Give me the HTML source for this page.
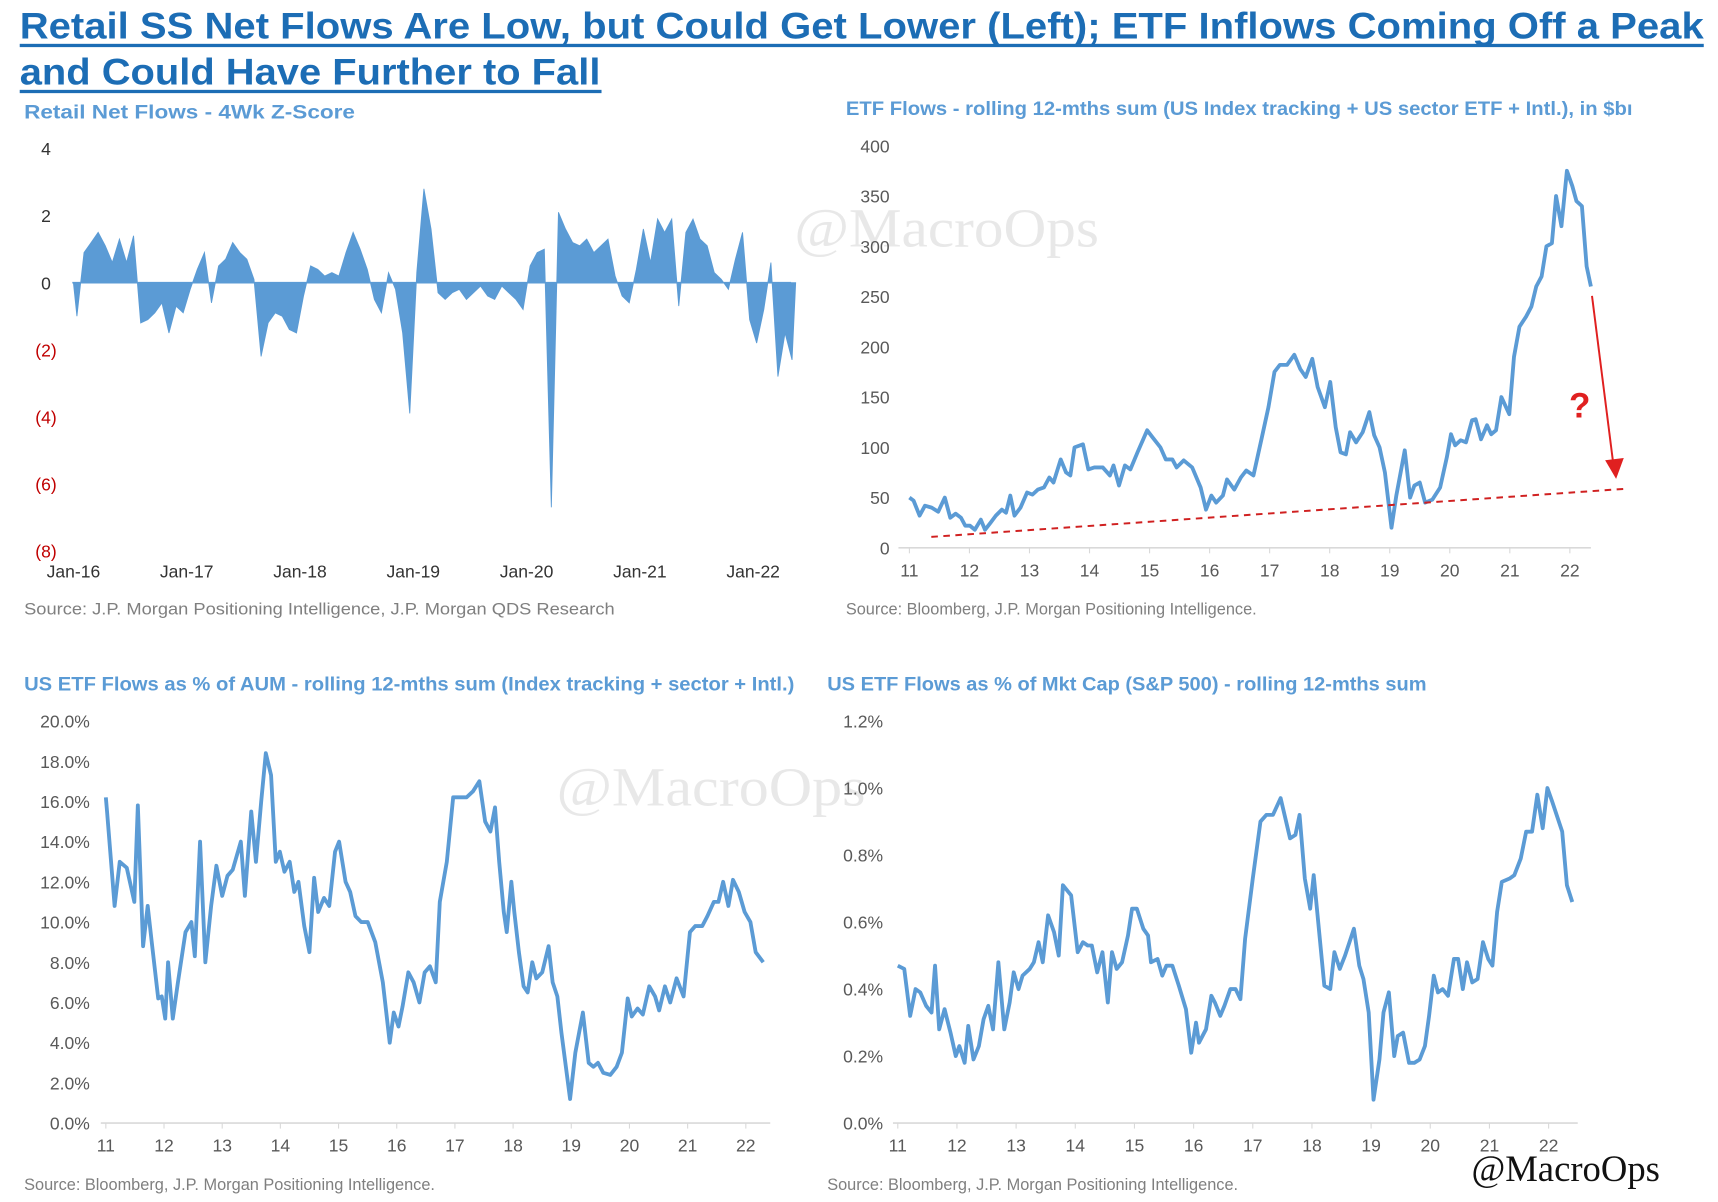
<!DOCTYPE html>
<html><head><meta charset="utf-8">
<style>
html,body{margin:0;padding:0;background:#fff;}
svg{display:block;}
text{font-family:"Liberation Sans",Arial,sans-serif;}
</style></head>
<body>
<svg id="root" width="1718" height="1202" viewBox="0 0 1568 1097" preserveAspectRatio="none" xmlns="http://www.w3.org/2000/svg">
<rect width="1568" height="1097" fill="#fff"/>
<g fill="#1c6db5" font-weight="bold" font-size="34">
<text x="18" y="35" textLength="1537" lengthAdjust="spacingAndGlyphs">Retail SS Net Flows Are Low, but Could Get Lower (Left); ETF Inflows Coming Off a Peak</text>
<rect x="18" y="40" width="1537" height="3"/>
<text x="18" y="77" textLength="530" lengthAdjust="spacingAndGlyphs">and Could Have Further to Fall</text>
<rect x="18" y="82" width="531" height="3"/>
</g>
<g font-weight="bold" font-size="18" fill="#5b9bd5">
<text x="22" y="108" textLength="302" lengthAdjust="spacingAndGlyphs">Retail Net Flows - 4Wk Z-Score</text>
<text x="772" y="105" textLength="718" lengthAdjust="spacingAndGlyphs">ETF Flows - rolling 12-mths sum (US Index tracking + US sector ETF + Intl.), in $bı</text>
<text x="22" y="630" textLength="703" lengthAdjust="spacingAndGlyphs">US ETF Flows as % of AUM - rolling 12-mths sum (Index tracking + sector + Intl.)</text>
<text x="755" y="630" textLength="547" lengthAdjust="spacingAndGlyphs">US ETF Flows as % of Mkt Cap (S&amp;P 500) - rolling 12-mths sum</text>
</g>
<g font-size="15" fill="#7f7f7f">
<text x="22" y="561" textLength="539" lengthAdjust="spacingAndGlyphs">Source: J.P. Morgan Positioning Intelligence, J.P. Morgan QDS Research</text>
<text x="772" y="561" textLength="375" lengthAdjust="spacingAndGlyphs">Source: Bloomberg, J.P. Morgan Positioning Intelligence.</text>
<text x="22" y="1086" textLength="375" lengthAdjust="spacingAndGlyphs">Source: Bloomberg, J.P. Morgan Positioning Intelligence.</text>
<text x="755" y="1086" textLength="375" lengthAdjust="spacingAndGlyphs">Source: Bloomberg, J.P. Morgan Positioning Intelligence.</text>
</g>
<g fill="#e8e8e8" font-size="50">
<text x="725" y="225" textLength="278" lengthAdjust="spacingAndGlyphs" style="font-family:'Liberation Serif',serif">@MacroOps</text>
<text x="508" y="735" textLength="282" lengthAdjust="spacingAndGlyphs" style="font-family:'Liberation Serif',serif">@MacroOps</text>
</g>
<text x="1343" y="1078" font-size="34" fill="#111" textLength="172" lengthAdjust="spacingAndGlyphs" style="font-family:'Liberation Serif',serif">@MacroOps</text>
<g id="c1"></g><g id="c2"></g><g id="c3"></g><g id="c4"></g>
</svg>
<script>
// ---- Chart 1: retail z-score (16 points per year from Jan-16) ----
const zYearLabels = ["Jan-16","Jan-17","Jan-18","Jan-19","Jan-20","Jan-21","Jan-22"];
const zTickValues = [4,2,0,-2,-4,-6,-8];
const zTickLabels = ["4","2","0","(2)","(4)","(6)","(8)"];
const zScores = [
-1.0,0.9,1.2,1.5,1.1,0.6,1.3,0.6,1.4,-1.2,-1.1,-0.9,-0.6,-1.5,-0.7,-0.9,
-0.2,0.4,0.9,-0.6,0.5,0.7,1.2,0.9,0.7,0.1,-2.2,-1.2,-0.9,-1.0,-1.4,-1.5,
-0.4,0.5,0.4,0.2,0.3,0.2,0.9,1.5,1.0,0.4,-0.5,-0.9,0.3,-0.2,-1.5,-3.9,
0.3,2.8,1.6,-0.3,-0.5,-0.3,-0.2,-0.5,-0.3,-0.1,-0.4,-0.5,-0.1,-0.3,-0.5,-0.8,
0.5,0.9,1.0,-6.7,2.1,1.6,1.2,1.1,1.3,0.9,1.1,1.3,0.2,-0.4,-0.6,0.4,
1.6,0.6,1.9,1.5,1.9,-0.7,1.5,1.9,1.3,1.1,0.3,0.1,-0.2,0.7,1.5,-1.1,
-1.8,-0.8,0.6,-2.8,-1.5,-2.3];
// ---- Chart 2: ETF flows $bn ----
const etfTicks = [0,50,100,150,200,250,300,350,400];
const yearLabels = ["11","12","13","14","15","16","17","18","19","20","21","22"];
const etfYears = [0,.07,.17,.26,.37,.48,.59,.68,.77,.86,.93,1.01,1.09,1.19,1.26,1.35,1.44,1.54,1.61,1.68,1.75,1.85,1.96,2.05,2.14,2.24,2.33,2.40,2.52,2.61,2.68,2.75,2.89,2.98,3.08,3.22,3.34,3.40,3.49,3.59,3.68,3.80,3.96,4.05,4.18,4.27,4.38,4.45,4.57,4.71,4.85,4.94,5.03,5.11,5.22,5.29,5.41,5.52,5.61,5.73,5.87,5.98,6.08,6.17,6.29,6.41,6.51,6.60,6.71,6.80,6.92,7.01,7.10,7.18,7.27,7.34,7.44,7.55,7.66,7.74,7.83,7.92,8.03,8.11,8.25,8.34,8.41,8.50,8.59,8.71,8.84,8.95,9.02,9.09,9.18,9.27,9.37,9.43,9.52,9.62,9.69,9.77,9.86,9.99,10.07,10.16,10.27,10.36,10.44,10.53,10.61,10.70,10.77,10.86,10.95,11.04,11.11,11.20,11.28,11.35];
const etfValues = [50,47,32,42,40,36,50,30,34,30,22,22,18,28,18,25,32,38,35,52,32,40,55,53,58,60,70,65,88,75,72,100,103,78,80,80,72,82,62,82,78,95,117,110,100,88,88,80,87,80,60,38,52,45,52,68,58,70,77,72,110,140,175,182,182,192,178,170,188,160,140,165,120,95,93,115,105,115,135,112,100,75,20,52,97,50,62,65,45,48,60,90,113,102,107,105,127,128,108,122,113,117,150,133,190,220,230,240,260,270,300,303,350,320,375,360,345,340,280,260];
// ---- Chart 3: % of AUM ----
const aumTicks = [0,2,4,6,8,10,12,14,16,18,20];
const aumYears = [0,.02,.15,.24,.36,.49,.55,.64,.72,.79,.90,.96,1.02,1.07,1.15,1.24,1.37,1.47,1.53,1.62,1.71,1.81,1.90,2.00,2.09,2.18,2.32,2.39,2.50,2.58,2.67,2.75,2.84,2.92,2.99,3.07,3.16,3.24,3.31,3.41,3.50,3.58,3.65,3.75,3.84,3.94,4.01,4.12,4.20,4.29,4.39,4.50,4.63,4.76,4.88,4.95,5.03,5.10,5.20,5.29,5.39,5.48,5.57,5.67,5.74,5.86,5.97,6.08,6.20,6.31,6.42,6.52,6.61,6.69,6.76,6.84,6.89,6.97,7.02,7.10,7.18,7.25,7.33,7.40,7.50,7.61,7.68,7.76,7.83,7.98,8.07,8.20,8.30,8.38,8.46,8.55,8.67,8.78,8.87,8.97,9.04,9.14,9.23,9.34,9.44,9.51,9.61,9.70,9.81,9.93,10.04,10.13,10.25,10.34,10.45,10.53,10.61,10.70,10.78,10.88,10.98,11.08,11.17,11.30];
const aumValues = [16.2,15.5,10.8,13.0,12.7,11.0,15.8,8.8,10.8,9.0,6.2,6.3,5.2,8.0,5.2,7.0,9.5,10.0,8.3,14.0,8.0,10.8,12.8,11.3,12.3,12.6,14.0,11.3,15.5,13.0,16.0,18.4,17.3,13.0,13.5,12.5,13.0,11.5,12.0,9.8,8.5,12.2,10.5,11.2,10.8,13.5,14.0,12.0,11.5,10.3,10.0,10.0,9.0,7.0,4.0,5.5,4.8,5.8,7.5,7.0,6.0,7.5,7.8,7.0,11.0,13.0,16.2,16.2,16.2,16.5,17.0,15.0,14.5,15.7,13.0,10.5,9.5,12.0,10.5,8.5,6.8,6.5,8.0,7.2,7.5,8.8,7.0,6.3,4.5,1.2,3.5,5.5,3.0,2.8,3.0,2.5,2.4,2.8,3.5,6.2,5.3,5.7,5.4,6.8,6.3,5.6,6.8,6.0,7.2,6.3,9.5,9.8,9.8,10.3,11.0,11.0,12.0,10.8,12.1,11.5,10.5,10.0,8.5,8.0];
// ---- Chart 4: % of Mkt Cap ----
const mcTicks = [0,0.2,0.4,0.6,0.8,1.0,1.2];
const mcYears = [0,.11,.21,.30,.38,.48,.57,.63,.70,.79,.89,.98,1.04,1.13,1.19,1.28,1.37,1.45,1.53,1.61,1.70,1.80,1.89,1.96,2.04,2.11,2.23,2.30,2.38,2.45,2.54,2.64,2.72,2.79,2.93,3.04,3.13,3.21,3.28,3.37,3.46,3.55,3.62,3.70,3.79,3.89,3.96,4.04,4.15,4.23,4.28,4.39,4.47,4.54,4.64,4.75,4.87,4.96,5.04,5.09,5.21,5.30,5.36,5.45,5.52,5.62,5.71,5.79,5.87,6.00,6.13,6.23,6.34,6.47,6.63,6.72,6.79,6.88,6.97,7.03,7.21,7.31,7.38,7.47,7.56,7.71,7.80,7.87,7.96,8.04,8.14,8.21,8.30,8.39,8.45,8.54,8.64,8.73,8.82,8.91,8.98,9.06,9.13,9.21,9.30,9.40,9.47,9.55,9.62,9.71,9.80,9.89,9.98,10.05,10.13,10.21,10.34,10.42,10.53,10.62,10.72,10.81,10.90,10.98,11.06,11.23,11.31,11.40];
const mcValues = [0.47,0.46,0.32,0.40,0.39,0.35,0.33,0.47,0.28,0.34,0.27,0.20,0.23,0.18,0.29,0.19,0.23,0.31,0.35,0.28,0.48,0.28,0.36,0.45,0.40,0.44,0.46,0.48,0.54,0.48,0.62,0.57,0.50,0.71,0.68,0.51,0.54,0.53,0.53,0.45,0.51,0.36,0.51,0.46,0.48,0.56,0.64,0.64,0.58,0.56,0.48,0.49,0.44,0.47,0.47,0.41,0.34,0.21,0.30,0.24,0.28,0.38,0.36,0.32,0.35,0.40,0.40,0.37,0.55,0.73,0.90,0.92,0.92,0.97,0.85,0.86,0.92,0.73,0.64,0.74,0.41,0.40,0.51,0.46,0.50,0.58,0.47,0.43,0.33,0.07,0.19,0.33,0.39,0.20,0.26,0.27,0.18,0.18,0.19,0.23,0.32,0.44,0.39,0.40,0.38,0.49,0.49,0.40,0.48,0.42,0.43,0.54,0.49,0.47,0.63,0.72,0.73,0.74,0.79,0.87,0.87,0.98,0.88,1.00,0.96,0.87,0.71,0.66];

const NS="http://www.w3.org/2000/svg";
function mk(parent,tag,attrs,txt){const e=document.createElementNS(NS,tag);for(const k in attrs)e.setAttribute(k,attrs[k]);if(txt!==undefined)e.textContent=txt;parent.appendChild(e);return e;}
const BLUE="#5b9bd5";

// Chart 1
(function(){
 const g=document.getElementById('c1');
 const x=t=>67+t*103.4, y=v=>258-v*30.6;
 zTickValues.forEach((v,i)=>{const t=mk(g,'text',{x:42,y:y(v)+6,'text-anchor':'middle','font-size':16,fill:v<0?'#c00000':'#333'},zTickLabels[i]);
 
 });
 zYearLabels.forEach((l,i)=>{const t=mk(g,'text',{x:x(i),y:527,'text-anchor':'middle','font-size':16,fill:'#333'},l);
 
 });
 // area (spiky) made of per-point triangles-like segments
 let pts=[x(0).toFixed(1)+','+y(0)];
 zScores.forEach((v,i)=>{pts.push(x((i+0.5)/16).toFixed(1)+','+y(v).toFixed(1));});
 pts.push(x(zScores.length/16).toFixed(1)+','+y(0));
 const a=mk(g,'polygon',{points:pts.join(' '),fill:BLUE,stroke:BLUE,'stroke-width':0.8});
 
 
 const l=mk(g,'line',{x1:66,x2:722,y1:y(0),y2:y(0),stroke:BLUE,'stroke-width':1.5});
 
 
})();

function lineChart(id,ticks,fmt,yr,vals,x,y,axisX1,axisX2,axisY,labelX,name){
 const g=document.getElementById(id);
 ticks.forEach(v=>{const t=mk(g,'text',{x:labelX,y:y(v)+6,'text-anchor':'end','font-size':16,fill:'#595959'},fmt(v));
 
 });
 const ax=mk(g,'line',{x1:axisX1,x2:axisX2,y1:axisY,y2:axisY,stroke:'#d9d9d9','stroke-width':1.5});
 
 
 yearLabels.forEach((l,i)=>{const tk=mk(g,'line',{x1:x(i),x2:x(i),y1:axisY,y2:axisY+5,stroke:'#d9d9d9'});
 
 
 const t=mk(g,'text',{x:x(i),y:axisY+26,'text-anchor':'middle','font-size':16,fill:'#595959'},l);
 
 });
 const pts=vals.map((v,i)=>x(yr[i]).toFixed(1)+','+y(v).toFixed(1)).join(' ');
 const p=mk(g,'polyline',{points:pts,fill:'none',stroke:BLUE,'stroke-width':3.5,'stroke-linejoin':'round'});
 
 
 return g;
}
// Chart 2
(function(){
 const x=t=>830+t*54.8, y=v=>500-v*0.9175;
 const g=lineChart('c2',etfTicks,v=>String(v),etfYears,etfValues,x,y,820,1452,500,812,'etf-flows-line');
 const d=mk(g,'line',{x1:850,y1:490,x2:1485,y2:446,stroke:'#d02020','stroke-width':1.8,'stroke-dasharray':'6,5'});
 
 
 const a=mk(g,'line',{x1:1453,y1:270,x2:1472,y2:420,stroke:'#e02020','stroke-width':1.8});
 
 
 const h=mk(g,'polygon',{points:'1465,420 1482,418 1475,437',fill:'#e02020'});
 
 
 const q=mk(g,'text',{x:1432,y:381,'font-size':32,'font-weight':'bold',fill:'#e02020'},'?');
 
 
})();
// Chart 3
(function(){
 const x=t=>96.6+t*53.1, y=v=>1025-v*18.35;
 lineChart('c3',aumTicks,v=>v.toFixed(1)+'%',aumYears,aumValues,x,y,92,703,1025,82,'aum-line');
})();
// Chart 4
(function(){
 const x=t=>819.4+t*54.0, y=v=>1025-v*305.8;
 lineChart('c4',mcTicks,v=>v.toFixed(1)+'%',mcYears,mcValues,x,y,815,1440,1025,806,'mktcap-line');
})();
</script>
</body></html>
